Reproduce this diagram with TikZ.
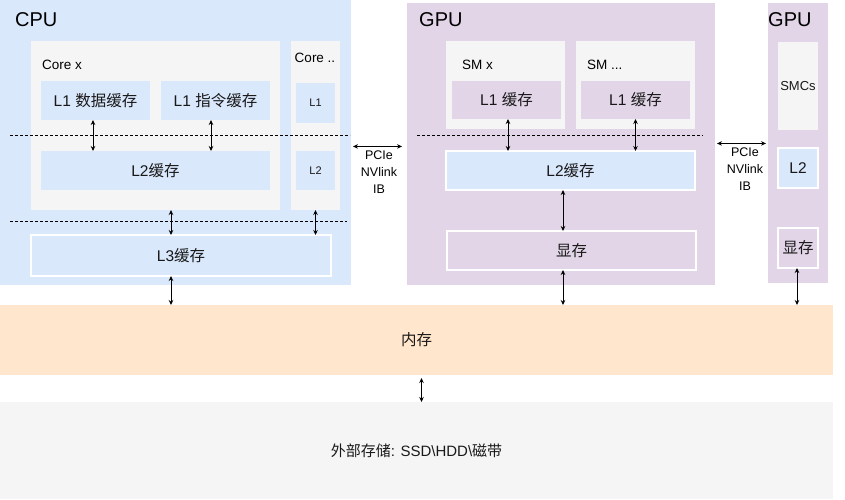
\documentclass[tikz,border=0pt]{standalone}
\usepackage{fontspec}
\setmainfont{Liberation Sans}
\newfontfamily\cjk{Noto Sans CJK SC}
\newcommand\zh[1]{{\cjk #1}}
\usetikzlibrary{arrows.meta}
\definecolor{cpublue}{HTML}{DAE8FC}
\definecolor{gpupurple}{HTML}{E1D5E7}
\definecolor{coregray}{HTML}{F5F5F5}
\definecolor{memorange}{HTML}{FFE6CC}
\tikzset{
  sz/.style 2 args={minimum width=#1pt, minimum height=#2pt},
  box/.style={inner sep=0pt, outer sep=0pt, text=black!90},
  blk/.style={box, font=\fontsize{15.5}{18}\selectfont},
  wbox/.style={blk, draw=white, line width=1.5pt},
  dbl/.style={{Stealth[length=5pt,width=4.5pt]}-{Stealth[length=5pt,width=4.5pt]}, line width=0.8pt},
  sep/.style={line width=0.7pt, dash pattern=on 3pt off 2pt},
  title/.style={inner sep=0pt, font=\fontsize{20}{24}\selectfont},
  sub/.style={inner sep=0pt, font=\fontsize{13.5}{16}\selectfont},
  lnk/.style={inner sep=0pt, align=center, font=\fontsize{12.5}{17}\selectfont},
}
\begin{document}
\begin{tikzpicture}[x=1pt, y=-1pt]
  \useasboundingbox (0,0) rectangle (845,499);
  \node[box, fill=cpublue, sz={351}{285}] (cpu) at (175.5,142.5) {};
  \node[title, anchor=west] (cputxt) at (15,20) {CPU};
  \node[box, fill=coregray, sz={249}{169}] (corex) at (155.5,125.5) {};
  \node[sub, anchor=west] (corextxt) at (42,65) {Core x};
  \node[blk, fill=cpublue, sz={109}{39}] (l1d) at (95.5,100.5) {L1 \zh{数据缓存}};
  \node[blk, fill=cpublue, sz={109}{39}] (l1i) at (215.5,100.5) {L1 \zh{指令缓存}};
  \node[blk, fill=cpublue, sz={229}{39}] (l2c) at (155.5,170.5) {L2\zh{缓存}};
  \node[box, fill=coregray, sz={49}{169}] (coreo) at (315.5,125.5) {};
  \node[sub] (coreotxt) at (315,58) {Core ..};
  \node[box, fill=cpublue, sz={39}{40}, font=\fontsize{11}{13}\selectfont] (l1o) at (315.5,103) {L1};
  \node[box, fill=cpublue, sz={39}{39}, font=\fontsize{11}{13}\selectfont] (l2o) at (315.5,170.5) {L2};
  \node[wbox, fill=cpublue, sz={300}{41}] (l3) at (181,255.5) {L3\zh{缓存}};
  \draw[sep] (10,135) -- (350,135);
  \draw[sep] (10,221) -- (347,221);

  \node[box, fill=gpupurple, sz={308}{282}] (gpu) at (561,144) {};
  \node[title, anchor=west] (gputxt) at (419,20) {GPU};
  \node[box, fill=coregray, sz={119}{88}] (smx) at (505.5,85) {};
  \node[sub, anchor=west] (smxtxt) at (462,65) {SM x};
  \node[blk, fill=gpupurple, sz={109}{38}] (l1g) at (506.5,100) {L1 \zh{缓存}};
  \node[box, fill=coregray, sz={119}{88}] (smo) at (635.5,85) {};
  \node[sub, anchor=west] (smotxt) at (587,65) {SM ...};
  \node[blk, fill=gpupurple, sz={109}{38}] (l1h) at (635.5,100) {L1 \zh{缓存}};
  \node[wbox, fill=cpublue, sz={249}{39}] (l2g) at (570.5,170.5) {L2\zh{缓存}};
  \node[wbox, fill=gpupurple, sz={249}{39}] (vram) at (571.5,250.5) {\zh{显存}};
  \draw[sep] (417,135) -- (703,135);

  \node[box, fill=gpupurple, sz={60}{280}] (gpub) at (798,143) {};
  \node[title, anchor=west] (gpubtxt) at (768,20) {GPU};
  \node[box, fill=coregray, sz={40}{88}, font=\fontsize{13}{15}\selectfont] (smcs) at (798,86) {SMCs};
  \node[wbox, fill=cpublue, sz={40}{40}] (l2b) at (798,168) {L2};
  \node[wbox, fill=gpupurple, sz={40}{40}] (vramb) at (798,248) {\zh{显存}};

  \node[blk, fill=memorange, sz={833}{70}] (mem) at (416.5,340) {\zh{内存}};
  \node[blk, fill=coregray, sz={833}{97}, font=\fontsize{15}{18}\selectfont] (ext) at (416.5,450.5) {\zh{外部存储}: SSD\textbackslash HDD\textbackslash\zh{磁带}};

  \node[lnk] (pcie) at (379,172) {PCIe\\NVlink\\IB};
  \node[lnk] (nvl) at (745,169) {PCIe\\NVlink\\IB};

  \begin{scope}[dbl]
    \draw ([xshift=-2.5pt]l1d.south) -- ([xshift=-2.5pt]l1d.south |- l2c.north);
    \draw ([xshift=-4.5pt]l1i.south) -- ([xshift=-4.5pt]l1i.south |- l2c.north);
    \draw ([xshift=15.5pt]corex.south) -- ([xshift=15.5pt]corex.south |- l3.north);
    \draw (coreo.south) -- (coreo.south |- l3.north);
    \draw ([xshift=-10pt]l3.south) -- ([xshift=-10pt]l3.south |- mem.north);
    \draw ([xshift=1.5pt]l1g.south) -- ([xshift=1.5pt]l1g.south |- l2g.north);
    \draw (l1h.south) -- (l1h.south |- l2g.north);
    \draw ([xshift=-7.5pt]l2g.south) -- ([xshift=-7.5pt]l2g.south |- vram.north);
    \draw ([xshift=-8.5pt]vram.south) -- ([xshift=-8.5pt]vram.south |- mem.north);
    \draw ([xshift=-1pt]vramb.south) -- ([xshift=-1pt]vramb.south |- mem.north);
    \draw ([xshift=5pt,yshift=-3pt]mem.south) -- ([xshift=5pt]mem.south |- ext.north);
    \draw ([xshift=2pt,yshift=4pt]cpu.east |- pcie.north) -- ([xshift=-5pt,yshift=4pt]gpu.west |- pcie.north);
    \draw ([xshift=2pt,yshift=4pt]gpu.east |- nvl.north) -- ([xshift=-2pt,yshift=4pt]gpub.west |- nvl.north);
  \end{scope}
\end{tikzpicture}
\end{document}
